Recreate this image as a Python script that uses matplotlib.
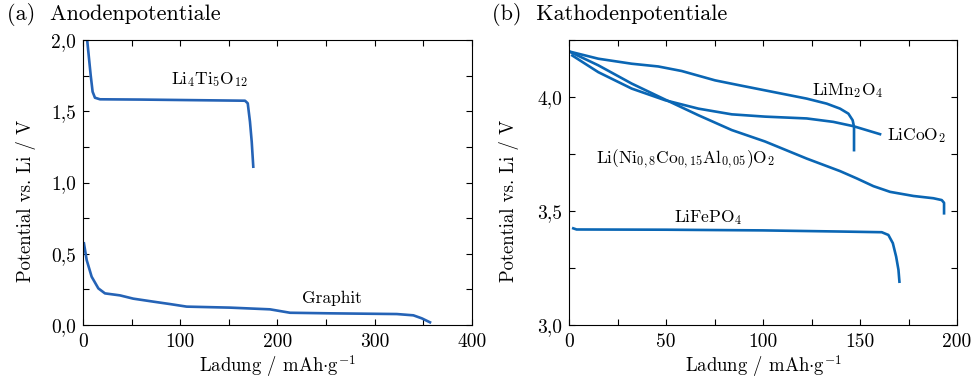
import matplotlib
matplotlib.use("Agg")
import matplotlib.pyplot as plt
from matplotlib.ticker import MultipleLocator

plt.rcParams['font.family'] = ['cmr10', 'DejaVu Serif']
plt.rcParams['mathtext.fontset'] = 'cm'
plt.rcParams['axes.unicode_minus'] = False

# (a) Anoden
lto_x = [3.8, 5.5, 7.9, 9.9, 12.3, 17.5, 60, 99.7, 140, 166.6, 169.4, 171.7, 173.5, 175.1]
lto_y = [2.035, 1.918, 1.754, 1.637, 1.595, 1.584, 1.582, 1.579, 1.576, 1.574, 1.556, 1.427, 1.286, 1.111]
graphit_x = [1.0, 3.8, 8.9, 15.8, 22.6, 38, 51.7, 72.3, 89.5, 106.6, 151.2, 192.3, 202.6, 212.9,
             254, 322.6, 339.7, 348.3, 356.8]
graphit_y = [0.573, 0.456, 0.339, 0.257, 0.222, 0.208, 0.185, 0.164, 0.147, 0.129, 0.122, 0.110,
             0.098, 0.086, 0.082, 0.077, 0.068, 0.047, 0.019]

# (b) Kathoden
lmo_x = [0, 15.1, 32.3, 46, 58.1, 75.3, 88.1, 105.3, 122.5, 132.8, 139.7, 144, 146.2, 146.9, 146.9]
lmo_y = [4.20, 4.168, 4.146, 4.134, 4.114, 4.073, 4.051, 4.022, 3.993, 3.971, 3.949, 3.927, 3.898,
         3.869, 3.767]
lco_x = [1.7, 15.1, 32.3, 49.5, 66.7, 83.9, 101, 122.5, 136.2, 146.6, 160.3]
lco_y = [4.182, 4.109, 4.037, 3.986, 3.949, 3.924, 3.914, 3.906, 3.891, 3.872, 3.837]
nca_x = [0, 15.1, 32.3, 49.5, 66.7, 83.9, 101, 122.5, 139.7, 148.3, 156.9, 165.5, 177.5, 187.8,
         192.1, 193.3, 193.3]
nca_y = [4.20, 4.139, 4.059, 3.989, 3.92, 3.855, 3.805, 3.73, 3.675, 3.643, 3.609, 3.584, 3.566,
         3.556, 3.548, 3.536, 3.49]
lfp_x = [2.2, 3.9, 50, 100, 139.7, 161.2, 164.6, 166.9, 168.6, 169.8, 170.3]
lfp_y = [3.424, 3.419, 3.418, 3.415, 3.41, 3.407, 3.395, 3.359, 3.30, 3.242, 3.19]

ticks_a_y = [0.0, 0.5, 1.0, 1.5, 2.0]
ticklabels_a_y = ['0,0', '0,5', '1,0', '1,5', '2,0']
ticks_a_x = [0, 100, 200, 300, 400]
ticks_b_y = [3.0, 3.5, 4.0]
ticklabels_b_y = ['3,0', '3,5', '4,0']
ticks_b_x = [0, 50, 100, 150, 200]

c_left = '#2563b6'
c_right = '#0a66b4'
lw = 1.9

fig = plt.figure(figsize=(9.74, 3.8), dpi=100)
ax1 = fig.add_axes([0.0852, 0.1447, 0.3994, 0.75])
ax2 = fig.add_axes([0.5842, 0.1447, 0.3984, 0.75])

ax1.plot(lto_x, lto_y, color=c_left, lw=lw)
ax1.plot(graphit_x, graphit_y, color=c_left, lw=lw)
ax1.text(91, 1.72, r'Li$_4$Ti$_5$O$_{12}$', fontsize=12.5, va='center')
ax1.text(225, 0.19, 'Graphit', fontsize=12.5, va='center')
ax1.set_xlim(0, 400)
ax1.set_ylim(0, 2.0)
ax1.set_xticks(ticks_a_x)
ax1.set_yticks(ticks_a_y)
ax1.set_yticklabels(ticklabels_a_y)
ax1.xaxis.set_minor_locator(MultipleLocator(50))
ax1.yaxis.set_minor_locator(MultipleLocator(0.25))

ax2.plot(lmo_x, lmo_y, color=c_right, lw=lw)
ax2.plot(lco_x, lco_y, color=c_right, lw=lw)
ax2.plot(nca_x, nca_y, color=c_right, lw=lw)
ax2.plot(lfp_x, lfp_y, color=c_right, lw=lw)
ax2.text(125.3, 4.03, r'LiMn$_2$O$_4$', fontsize=12.5, va='center')
ax2.text(164, 3.83, r'LiCoO$_2$', fontsize=12.5, va='center')
ax2.text(13.8, 3.727, r'Li(Ni$_{0,8}$Co$_{0,15}$Al$_{0,05}$)O$_2$', fontsize=12.5, va='center')
ax2.text(54, 3.47, r'LiFePO$_4$', fontsize=12.5, va='center')
ax2.set_xlim(0, 200)
ax2.set_ylim(3.0, 4.25)
ax2.set_xticks(ticks_b_x)
ax2.set_yticks(ticks_b_y)
ax2.set_yticklabels(ticklabels_b_y)
ax2.xaxis.set_minor_locator(MultipleLocator(25))
ax2.yaxis.set_minor_locator(MultipleLocator(0.25))

for ax in (ax1, ax2):
    ax.tick_params(which='both', direction='in', top=True, right=True, length=4, width=0.8)
    ax.tick_params(axis='x', labelsize=14, pad=6)
    ax.tick_params(axis='y', labelsize=14, pad=5)
    ax.set_xlabel(r'Ladung / mAh$\cdot$g$^{\mathrm{-}1}$', fontsize=13.5)
    ax.set_ylabel('Potential vs. Li / V', fontsize=13.5)
    for s in ax.spines.values():
        s.set_linewidth(0.8)

ax1.yaxis.set_label_coords(-0.121, 0.435)
ax2.yaxis.set_label_coords(-0.129, 0.435)
ax1.xaxis.set_label_coords(0.5, -0.1)
ax2.xaxis.set_label_coords(0.5, -0.1)

fig.text(7 / 974, 1 - 15 / 380, '(a)  Anodenpotentiale', fontsize=16, va='center')
fig.text(492 / 974, 1 - 15 / 380, '(b)  Kathodenpotentiale', fontsize=16, va='center')

fig.savefig('out.png', dpi=100)
